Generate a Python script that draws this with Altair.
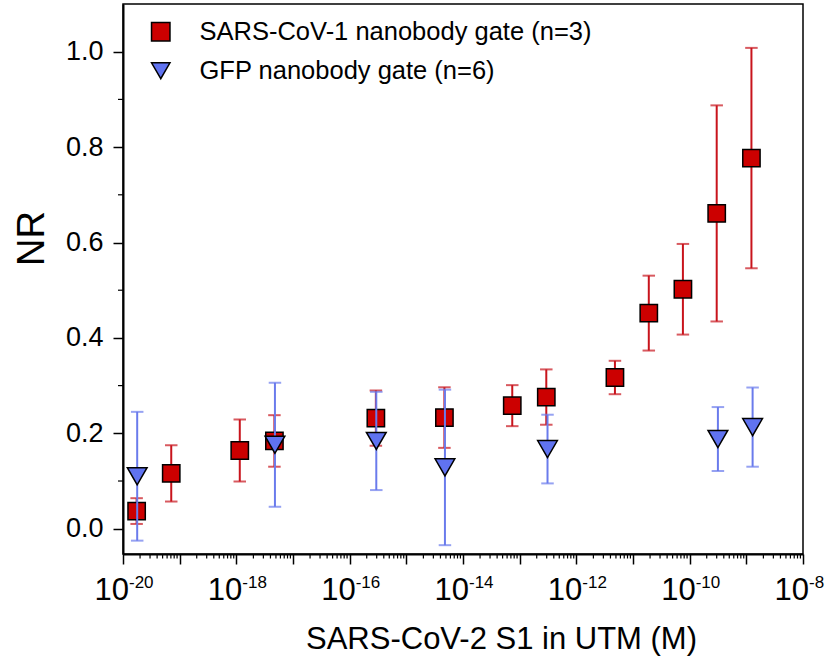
import altair as alt
import pandas as pd

# ---- data ----
red_label = "SARS-CoV-1 nanobody gate (n=3)"
blue_label = "GFP nanobody gate (n=6)"

red_conc = [1.74e-20, 7.1e-20, 1.15e-18, 4.7e-18, 2.9e-16, 4.7e-15, 7.4e-14,
            2.95e-13, 4.8e-12, 1.9e-11, 7.6e-11, 3.0e-10, 1.23e-9]
red_nr = [0.037, 0.116, 0.164, 0.184, 0.232, 0.233, 0.258, 0.276, 0.317,
          0.452, 0.502, 0.661, 0.777]
red_err = [0.027, 0.059, 0.065, 0.054, 0.058, 0.0635, 0.043, 0.058, 0.035,
           0.0785, 0.095, 0.2265, 0.231]

blue_conc = [1.78e-20, 4.8e-18, 2.95e-16, 4.8e-15, 3.1e-13, 3.15e-10, 1.29e-9]
blue_nr = [0.110, 0.176, 0.184, 0.1285, 0.167, 0.188, 0.213]
blue_err = [0.135, 0.130, 0.103, 0.163, 0.072, 0.067, 0.083]

decades = [-20, -19, -18, -17, -16, -15, -14, -13, -12, -11, -10, -9, -8]
label_exps = [-20, -18, -16, -14, -12, -10, -8]
minor_mult = [2, 3, 4, 5, 6, 7, 8, 9]
y_major = [0.0, 0.2, 0.4, 0.6, 0.8, 1.0]
y_minor = [0.1, 0.3, 0.5, 0.7, 0.9]

# ---- tables ----
red = pd.DataFrame({"conc": red_conc, "nr": red_nr, "err": red_err})
red["series"] = red_label
blue = pd.DataFrame({"conc": blue_conc, "nr": blue_nr, "err": blue_err})
blue["series"] = blue_label
for d in (red, blue):
    d["lo"] = d["nr"] - d["err"]
    d["hi"] = d["nr"] + d["err"]

major_vals = [10.0 ** e for e in decades]
minor_vals = [m * 10.0 ** e for e in decades[:-1] for m in minor_mult]
minor_df = pd.DataFrame({"v": minor_vals})
ymin_df = pd.DataFrame({"v": y_minor})
lab_df = pd.DataFrame({"v": [10.0 ** e for e in label_exps],
                       "base": ["10"] * len(label_exps),
                       "exp": [str(e) for e in label_exps]})

FONT = "Liberation Sans"
RED_BAR = "#C8141C"
BLUE_BAR = "#6A7BEC"

xscale = alt.Scale(type="log", domain=[1e-20, 1e-8], nice=False)
yscale = alt.Scale(domain=[-0.053, 1.1], nice=False, zero=False)

xaxis = alt.Axis(values=major_vals, labels=False, tickSize=10, tickWidth=1.5,
                 tickColor="black", domainColor="black", domainWidth=2,
                 grid=False, title="SARS-CoV-2 S1 in UTM (M)",
                 titleFont=FONT, titleFontSize=31, titleFontWeight="normal",
                 titleColor="black", titleX=378, titleY=94,
                 titleAlign="center", titleBaseline="alphabetic")
yaxis = alt.Axis(values=y_major, format=".1f", tickSize=10, tickWidth=1.5,
                 tickColor="black", domainColor="black", domainWidth=2,
                 grid=False, labelFont=FONT, labelFontSize=27,
                 labelColor="black", labelPadding=10,
                 title="NR", titleFont=FONT, titleFontSize=38,
                 titleFontWeight="normal", titleColor="black",
                 titleX=-80, titleY=234, titleAngle=270,
                 titleAlign="center", titleBaseline="alphabetic")


def X(field):
    return alt.X(field, scale=xscale, axis=xaxis)


def Y(field):
    return alt.Y(field, scale=yscale, axis=yaxis)


color_scale = alt.Scale(domain=[red_label, blue_label],
                        range=["#CC0000", "#6073F0"])
shape_scale = alt.Scale(domain=[red_label, blue_label],
                        range=["square", "triangle-down"])
stroke_scale = alt.Scale(domain=[red_label, blue_label],
                         range=["black", "black"])
legend = alt.Legend(orient="none", legendX=25, legendY=15, title=None,
                    labelFont=FONT, labelFontSize=25.5, labelColor="black",
                    labelLimit=600,
                    symbolSize=340, symbolStrokeWidth=1.5, symbolOpacity=1,
                    rowPadding=12, labelOffset=26, padding=0)


def bars(df, color):
    base = alt.Chart(df)
    rule = base.mark_rule(color=color, strokeWidth=2).encode(
        x=X("conc:Q"), y=Y("lo:Q"), y2="hi:Q")
    cap_lo = base.mark_tick(color=color, orient="horizontal", size=12.5,
                            thickness=2).encode(x=X("conc:Q"), y=Y("lo:Q"))
    cap_hi = base.mark_tick(color=color, orient="horizontal", size=12.5,
                            thickness=2).encode(x=X("conc:Q"), y=Y("hi:Q"))
    return [rule, cap_lo, cap_hi]


def points(df, size):
    return alt.Chart(df).mark_point(filled=True, strokeWidth=1.5, opacity=1,
                                    size=size).encode(
        x=X("conc:Q"), y=Y("nr:Q"),
        color=alt.Color("series:N", scale=color_scale, legend=legend),
        shape=alt.Shape("series:N", scale=shape_scale, legend=legend),
        stroke=alt.Stroke("series:N", scale=stroke_scale, legend=legend))


minor_x = alt.Chart(minor_df).mark_rule(color="black", strokeWidth=1.2).encode(
    x=X("v:Q"), y=alt.value(550), y2=alt.value(554.5))
minor_y = alt.Chart(ymin_df).mark_rule(color="black", strokeWidth=1.2).encode(
    y=Y("v:Q"), x=alt.value(0), x2=alt.value(-5))

lab_base = alt.Chart(lab_df).mark_text(font=FONT, fontSize=31, align="right",
                                       baseline="alphabetic", dx=6,
                                       color="black").encode(
    x=X("v:Q"), y=alt.value(595.7), text="base:N")
lab_exp = alt.Chart(lab_df).mark_text(font=FONT, fontSize=17, align="left",
                                      baseline="alphabetic", dx=6,
                                      color="black").encode(
    x=X("v:Q"), y=alt.value(583.7), text="exp:N")

layers = (bars(red, RED_BAR) + [points(red, 300)]
          + bars(blue, BLUE_BAR) + [points(blue, 390)]
          + [minor_x, minor_y, lab_base, lab_exp])

chart = alt.layer(*layers).properties(
    width=680, height=550,
    autosize=alt.AutoSizeParams(type="none"),
    padding={"left": 123, "top": 4, "right": 30, "bottom": 103},
    background="white",
).configure_view(stroke="black", strokeWidth=1.5)

chart.save("out.html", embed_options={"renderer": "svg", "actions": False})
